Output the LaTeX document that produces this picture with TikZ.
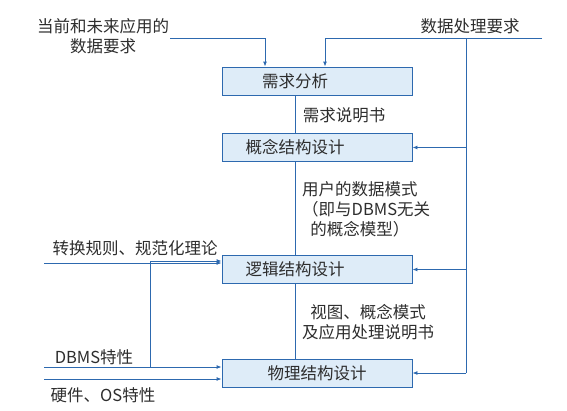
\documentclass[tikz,border=0pt]{standalone}
\usepackage{fontspec}
\newfontfamily\cjk{Noto Sans CJK SC}
\usepackage{xcolor}
\usetikzlibrary{arrows.meta, positioning, calc}
\definecolor{lineblue}{RGB}{45,105,175}
\definecolor{boxfill}{RGB}{222,236,248}
\definecolor{txtgray}{RGB}{45,45,45}
\newcommand{\leftpad}{\hspace{44pt}\mbox{}}

\begin{document}
\begin{tikzpicture}[x=1pt, y=-1pt, >={Latex[length=5pt,width=4pt]},
  stage/.style={draw=lineblue, fill=boxfill, line width=0.9pt, minimum width=190pt,
    minimum height=28pt, inner sep=0pt, text=txtgray, font=\cjk\fontsize{16.5}{19}\selectfont},
  lbl/.style={inner sep=0pt, text=txtgray, font=\cjk\fontsize{16.5}{20}\selectfont},
  flow/.style={lineblue, line width=0.9pt},
  feed/.style={flow, ->}
]
  \useasboundingbox (0,0) rectangle (567,410);
  % stages
  \node[stage] (ana) at (317,81) {需求分析\leftpad};
  \node[stage] (concept) at (317,147.5) {概念结构设计\leftpad};
  \node[stage] (logic) at (317,269.5) {逻辑结构设计\leftpad};
  \node[stage] (phys) at (317,373) {物理结构设计};
  % labels
  \node[lbl, align=center] (appreq) at (103,36.5) {当前和未来应用的\\数据要求};
  \node[lbl] (procreq) at (470,26) {数据处理要求};
  \node[lbl] (spec) at (344,115) {需求说明书};
  \node[lbl, align=left, anchor=north west] (usermodel) at (302,181)
    {用户的数据模式\\（即与DBMS无关\\\hspace{0.5em}的概念模型）};
  \node[lbl, align=center] (views) at (368,322.5) {视图、概念模式\\及应用处理说明书};
  \node[lbl] (rules) at (135,248) {转换规则、规范化理论};
  \node[lbl] (dbms) at (94,357) {DBMS特性};
  \node[lbl] (hw) at (103,395) {硬件、OS特性};
  % free ends
  \coordinate (appin) at (170,38);
  \coordinate (procin) at (542,38);
  \coordinate (rtop) at (466,38);
  \coordinate (rbot) at (466,373);
  \coordinate (rulesin) at (44,263);
  \coordinate (dbmsin) at (44,367);
  \coordinate (hwin) at (44,379);
  \coordinate (split) at (150,367);
  % top inputs
  \draw[feed] (appin) -| ([xshift=-52pt]ana.north);
  \draw[feed] (procin) -| ([xshift=8pt]ana.north);
  % stage to stage
  \draw[flow] ([xshift=-22pt]ana.south) -- ([xshift=-22pt]concept.north);
  \draw[flow] ([xshift=-22pt]concept.south) -- ([xshift=-22pt]logic.north);
  \draw[flow] ([xshift=-22pt]logic.south) -- ([xshift=-22pt]phys.north);
  % right feedback bus
  \draw[flow] (rtop) -- (rbot);
  \draw[feed] (rtop |- concept.east) -- (concept.east);
  \draw[feed] (rtop |- logic.east) -- (logic.east);
  \draw[feed] (rbot) -- (phys.east);
  % left inputs
  \draw[feed] (rulesin) -- (rulesin -| logic.west);
  \draw[feed] (split) |- ([yshift=8.5pt]logic.west);
  \draw[feed] (dbmsin) -- (dbmsin -| phys.west);
  \draw[feed] (hwin) -- (hwin -| phys.west);
\end{tikzpicture}
\end{document}
